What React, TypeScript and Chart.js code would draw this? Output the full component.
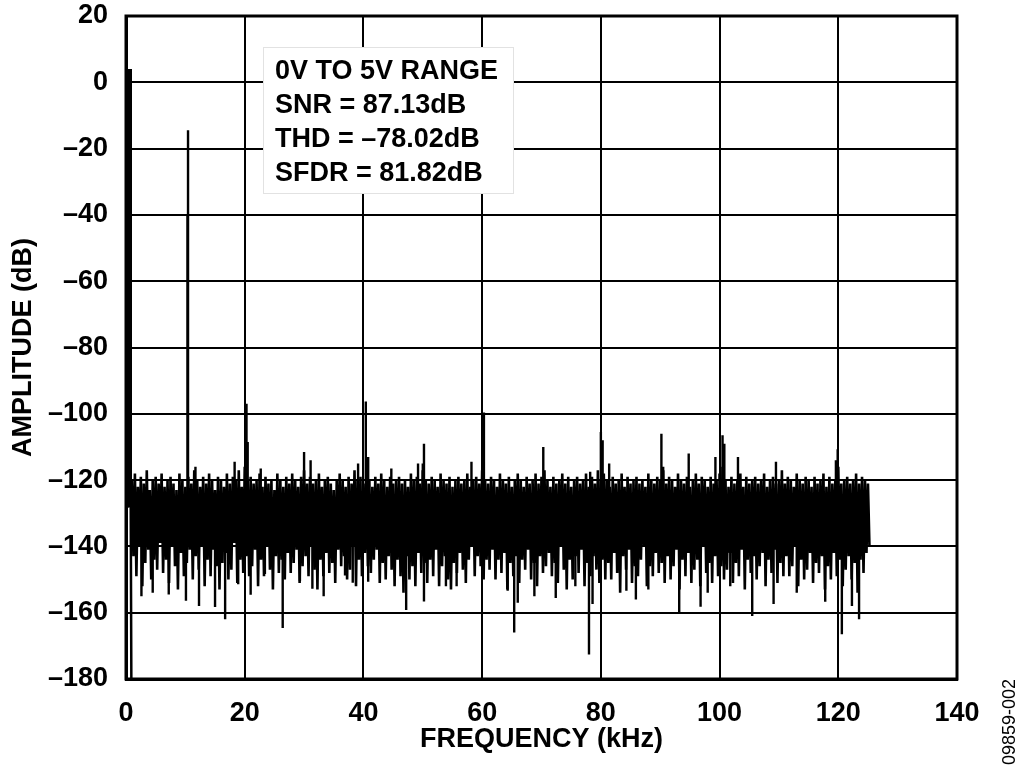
import React, { useEffect, useRef } from "react";
import { Chart, registerables } from "chart.js";

Chart.register(...registerables);

// ---- Axis ticks ----
const xTicks = [0, 20, 40, 60, 80, 100, 120, 140];
const xTickLabels = ["0", "20", "40", "60", "80", "100", "120", "140"];
const yTicks = [20, 0, -20, -40, -60, -80, -100, -120, -140, -160, -180];
const yTickLabels = ["20", "0", "–20", "–40", "–60", "–80", "–100", "–120", "–140", "–160", "–180"];

// ---- DC / low-frequency leakage (kHz, dB) ----
const dcFreqKHz = [0.1, 0.2, 0.3, 0.4, 0.5, 0.6, 0.7, 0.8, 0.9];
const dcDb = [4, -125, 4, -128, 4, -126, 4, -130, -180];

// ---- Noise floor bins (start 1.0 kHz, 0.25 kHz per bin) ----
const noiseStartKHz = 1.0;
const noiseStepKHz = 0.25;
const noiseDb = [
  -120, -143, -118, -149, -122, -140, -119, -152, -121, -145, -117, -141, -123, -150, -120, -144, -119, -147, -121, -139,
  -118, -148, -122, -144, -120, -151, -119, -140, -121, -146, -123, -153, -118, -142, -120, -149, -122, -145, -119, -141,
  -121, -150, -117, -143, -120, -147, -122, -140, -119, -152, -121, -144, -118, -149, -120, -141, -123, -146, -119, -153,
  -120, -145, -122, -142, -118, -150, -121, -147, -119, -139, -120, -151, -117, -144, -122, -148, -116, -143, -120, -149,
  -119, -146, -121, -141, -120, -152, -118, -144, -122, -149, -119, -140, -121, -147, -120, -153, -123, -143, -118, -148,
  -120, -144, -122, -150, -119, -142, -121, -148, -118, -145, -120, -141, -122, -151, -119, -146, -117, -143, -121, -149,
  -119, -140, -121, -147, -120, -153, -118, -144, -122, -149, -120, -142, -119, -148, -121, -145, -123, -151, -120, -141,
  -118, -146, -120, -143, -122, -150, -119, -147, -121, -140, -117, -152, -120, -144, -119, -149, -121, -142, -118, -146,
  -120, -148, -122, -144, -119, -141, -121, -151, -118, -145, -120, -150, -122, -143, -119, -147, -121, -152, -120, -144,
  -119, -149, -121, -154, -120, -143, -122, -150, -118, -146, -120, -152, -119, -142, -121, -148, -117, -145, -120, -151,
  -121, -144, -119, -149, -120, -141, -122, -152, -118, -146, -120, -143, -121, -150, -119, -153, -122, -145, -120, -148,
  -119, -142, -121, -147, -120, -151, -118, -144, -122, -140, -120, -149, -119, -143, -121, -146, -117, -150, -120, -144,
  -121, -147, -119, -141, -120, -150, -122, -144, -118, -148, -120, -142, -121, -153, -119, -145, -122, -149, -120, -143,
  -118, -151, -120, -144, -122, -147, -119, -141, -121, -150, -120, -145, -118, -152, -121, -143, -119, -148, -117, -146,
  -120, -142, -122, -149, -119, -145, -121, -151, -120, -140, -118, -147, -121, -153, -119, -144, -122, -150, -120, -143,
  -119, -148, -121, -141, -120, -152, -118, -145, -122, -149, -119, -143, -121, -147, -117, -151, -120, -144, -118, -150,
  -120, -145, -122, -150, -119, -142, -121, -148, -120, -154, -118, -143, -122, -147, -119, -141, -121, -151, -120, -146,
  -119, -149, -121, -144, -120, -140, -122, -152, -118, -146, -120, -149, -121, -142, -119, -148, -120, -145, -117, -151,
  -121, -143, -119, -150, -120, -146, -122, -141, -118, -153, -120, -144, -121, -149, -119, -142, -122, -151, -120, -147,
  -118, -144, -121, -152, -119, -140, -120, -148, -122, -145, -119, -151, -121, -143, -120, -149, -118, -146, -116, -150,
  -120, -147, -122, -142, -119, -151, -121, -145, -120, -149, -118, -141, -122, -153, -119, -144, -121, -148, -120, -143,
  -119, -150, -121, -146, -120, -142, -118, -152, -122, -144, -120, -148, -119, -141, -121, -151, -120, -145, -117, -149,
  -121, -143, -119, -149, -120, -146, -122, -140, -118, -152, -120, -144, -121, -150, -119, -147, -120, -142, -122, -151,
  -119, -145, -121, -148, -120, -143, -118, -153, -122, -146, -119, -150, -121, -142, -120, -149, -116, -144, -121, -152,
  -120, -147, -119, -143, -121, -150, -120, -145, -118, -154, -121, -144, -119, -148, -120, -142, -121, -140,
];

// ---- Tone and harmonic / spur peaks (kHz, dB) ----
const peakFreqKHz = [
  10.45, 10.35, 11.7, 18.3, 20.3, 20.5, 22.7, 30.0, 31.1, 39.1, 40.4, 40.8, 44.7, 49.2, 50.0, 50.2,
  58.2, 60.3, 70.3, 78.2, 80.0, 80.3, 81.4, 90.2, 90.5, 94.8, 99.3, 100.5, 100.8, 103.1, 109.5, 119.6, 119.9,
];
const peakDb = [
  -14.5, -40, -116, -114.5, -97, -108.5, -116.5, -111.5, -114, -115, -96.3, -113, -116.5, -115, -115, -109,
  -114.5, -99.6, -110, -117.5, -105.5, -108, -115, -106, -116, -112, -113, -106.5, -109, -113, -114.5, -114, -110.7,
];

// ---- Deep noise dips (kHz, dB) ----
const dipFreqKHz = [
  2.6, 4.5, 7.2, 10.1, 12.3, 15.0, 16.7, 18.9, 21.0, 23.4, 26.4, 29.3, 31.4, 33.3, 36.9, 38.2, 40.8, 47.2,
  50.2, 53.9, 55.7, 64.3, 65.4, 66.0, 68.8, 72.4, 75.7, 78.0, 78.6, 84.3, 85.9, 88.0, 93.2, 96.8, 98.0,
  101.8, 105.5, 109.1, 113.0, 117.8, 120.6, 122.3, 123.5,
];
const dipDb = [
  -155, -154, -154.5, -156.4, -158, -158.3, -162, -151.4, -154.6, -148.3, -164.6, -150.4, -152.8, -155, -148.8, -151, -150.7, -159.2,
  -156.6, -152, -152, -153.4, -166, -157, -155, -155.6, -152, -172.6, -157.4, -153.4, -156, -153, -160.3, -158.2, -154,
  -152, -161, -157.4, -154, -156.7, -166.5, -158, -162,
];

const annotationLines = ["0V TO 5V RANGE", "SNR = 87.13dB", "THD = –78.02dB", "SFDR = 81.82dB"];
const figureId = "09859-002";

const FONT_FAMILY = "'Liberation Sans', Arial, Helvetica, sans-serif";

export default function App() {
  const canvasRef = useRef<HTMLCanvasElement | null>(null);

  useEffect(() => {
    const canvas = canvasRef.current;
    if (!canvas) return;

    const noisePoints = noiseDb.map((v, i) => ({ x: noiseStartKHz + i * noiseStepKHz, y: v }));
    const dcPoints = dcDb.map((v, i) => ({ x: dcFreqKHz[i], y: v }));
    const spikePoints: { x: number; y: number | null }[] = [];
    peakFreqKHz.forEach((f, i) => {
      spikePoints.push({ x: f, y: -124 }, { x: f, y: peakDb[i] }, { x: f, y: null });
    });
    dipFreqKHz.forEach((f, i) => {
      spikePoints.push({ x: f, y: -138 }, { x: f, y: dipDb[i] }, { x: f, y: null });
    });

    const overlay = {
      id: "overlay",
      beforeDatasetsDraw(chart: any) {
        const { ctx, chartArea: ca } = chart;
        const bx = ca.left + 137;
        const by = ca.top + 31;
        ctx.save();
        ctx.fillStyle = "#ffffff";
        ctx.fillRect(bx, by, 250, 146);
        ctx.strokeStyle = "#e2e2e2";
        ctx.lineWidth = 1;
        ctx.strokeRect(bx + 0.5, by + 0.5, 250, 146);
        ctx.fillStyle = "#000";
        ctx.font = `bold 27px ${FONT_FAMILY}`;
        ctx.textAlign = "left";
        ctx.textBaseline = "middle";
        annotationLines.forEach((t, i) => {
          ctx.fillText(t, bx + 12, by + 25 + i * 34);
        });
        ctx.restore();
      },
      afterDraw(chart: any) {
        const { ctx, chartArea: ca } = chart;
        ctx.save();
        ctx.strokeStyle = "#000";
        ctx.lineWidth = 3;
        ctx.strokeRect(ca.left, ca.top, ca.right - ca.left, ca.bottom - ca.top);
        ctx.translate(1010, 722);
        ctx.rotate(-Math.PI / 2);
        ctx.fillStyle = "#000";
        ctx.font = `18px ${FONT_FAMILY}`;
        ctx.textAlign = "center";
        ctx.textBaseline = "middle";
        ctx.fillText(figureId, 0, 0);
        ctx.restore();
      },
    };

    const tickFont = { family: FONT_FAMILY, size: 27, weight: "bold" as const };

    const chart = new Chart(canvas, {
      type: "scatter",
      data: {
        datasets: [
          {
            label: "noise",
            data: noisePoints,
            showLine: true,
            borderColor: "#000",
            borderWidth: 2.6,
            pointRadius: 0,
            borderJoinStyle: "bevel",
          },
          {
            label: "spikes",
            data: spikePoints as any,
            showLine: true,
            spanGaps: false,
            borderColor: "#000",
            borderWidth: 2.4,
            pointRadius: 0,
          },
          {
            label: "dc",
            data: dcPoints,
            showLine: true,
            borderColor: "#000",
            borderWidth: 2.5,
            pointRadius: 0,
            borderJoinStyle: "bevel",
          },
        ],
      },
      options: {
        animation: false,
        responsive: true,
        maintainAspectRatio: false,
        devicePixelRatio: 1,
        layout: { padding: { left: 0, right: 67, top: 16, bottom: 0 } },
        plugins: {
          legend: { display: false },
          tooltip: { enabled: false },
        },
        elements: { line: { tension: 0 } },
        scales: {
          x: {
            type: "linear",
            min: 0,
            max: 140,
            afterBuildTicks: (s: any) => {
              s.ticks = xTicks.map((v) => ({ value: v }));
            },
            afterFit: (s: any) => {
              s.height = 94;
              s.paddingLeft = 0;
              s.paddingRight = 0;
            },
            grid: { color: "#000", lineWidth: 2, drawTicks: false },
            border: { display: true, color: "#000", width: 3 },
            ticks: {
              color: "#000",
              font: tickFont,
              padding: 18,
              maxRotation: 0,
              autoSkip: false,
              callback: (v: any) => xTickLabels[xTicks.indexOf(Number(v))] ?? "",
            },
            title: {
              display: true,
              text: "FREQUENCY (kHz)",
              color: "#000",
              font: tickFont,
              padding: { top: 0, bottom: 17 },
            },
          },
          y: {
            type: "linear",
            min: -180,
            max: 20,
            afterBuildTicks: (s: any) => {
              s.ticks = yTicks.map((v) => ({ value: v }));
            },
            afterFit: (s: any) => {
              s.width = 126;
              s.paddingTop = 0;
              s.paddingBottom = 0;
            },
            grid: { color: "#000", lineWidth: 2, drawTicks: false },
            border: { display: true, color: "#000", width: 3 },
            ticks: {
              color: "#000",
              font: tickFont,
              padding: 18,
              autoSkip: false,
              callback: (v: any) => yTickLabels[yTicks.indexOf(Number(v))] ?? "",
            },
            title: {
              display: true,
              text: "AMPLITUDE (dB)",
              color: "#000",
              font: tickFont,
              padding: { top: 7, bottom: 0 },
            },
          },
        },
      },
      plugins: [overlay],
    });

    return () => {
      chart.destroy();
    };
  }, []);

  return (
    <div style={{ position: "absolute", left: 0, top: 0, width: 1024, height: 773, background: "#fff" }}>
      <canvas ref={canvasRef} />
    </div>
  );
}
